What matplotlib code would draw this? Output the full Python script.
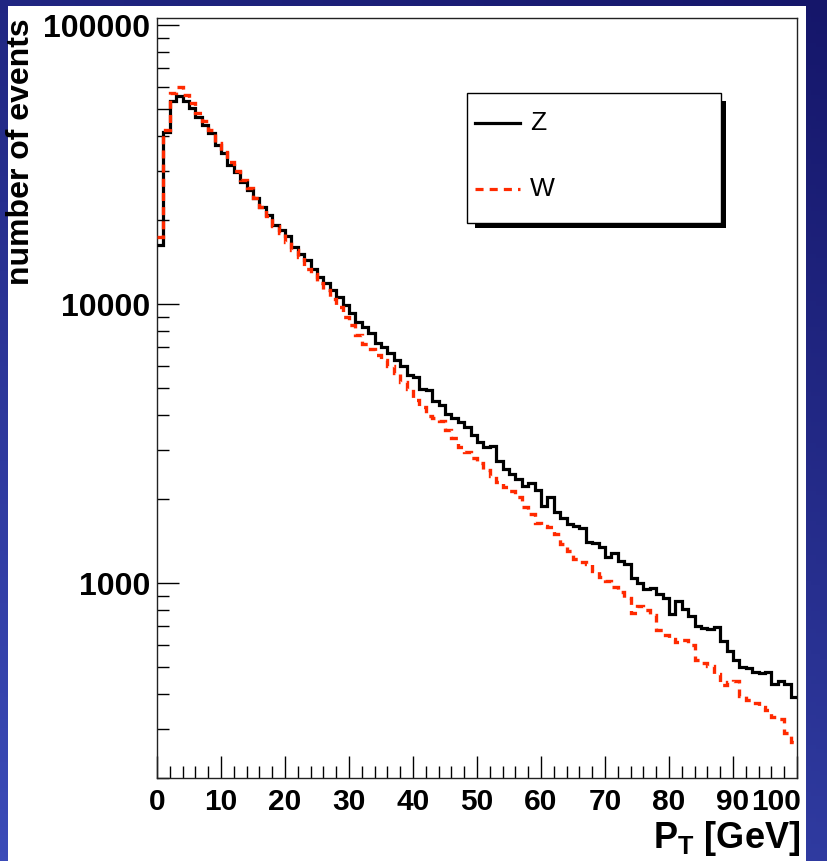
import matplotlib

matplotlib.use("Agg")
import matplotlib.pyplot as plt
import numpy as np
from matplotlib import font_manager
from matplotlib.lines import Line2D
from matplotlib.patches import Rectangle
from matplotlib.ticker import FixedLocator, LogLocator, NullFormatter
from matplotlib.transforms import ScaledTranslation

# transverse momentum bins, 1 GeV wide
pt_edges = list(range(0, 101))

# Z histogram (black solid)
z_counts = [
    16300, 41500, 53400, 55700, 53400, 50300, 46900, 43800, 40900, 37100,
    34700, 31500, 29800, 27400, 25600, 23900, 22300, 20800, 19200, 18400,
    17500, 16000, 15100, 14400, 13300, 12500, 11900, 11200, 10600, 9920,
    9260, 8640, 8290, 7850, 7230, 7030, 6660, 6300, 5990, 5570,
    5490, 4950, 4920, 4500, 4350, 4030, 3890, 3790, 3630, 3390,
    3210, 3080, 3100, 2740, 2560, 2450, 2350, 2230, 2290, 2160,
    1895, 2030, 1790, 1705, 1630, 1600, 1580, 1405, 1390, 1345,
    1240, 1285, 1195, 1170, 1045, 1000, 955, 960, 910, 885,
    775, 860, 810, 760, 700, 690, 685, 695, 620, 570,
    530, 500, 495, 480, 475, 480, 435, 445, 435, 390,
]

# W histogram (red dashed)
w_counts = [
    17400, 42000, 57200, 60100, 56100, 52400, 48300, 45300, 42000, 37800,
    35200, 32400, 30100, 27800, 26000, 24000, 22300, 20700, 19000, 18000,
    16700, 15600, 14700, 13300, 12800, 11900, 11200, 10400, 9730, 9010,
    8410, 7740, 7190, 6880, 6550, 6300, 5990, 5680, 5270, 4950,
    4530, 4260, 3980, 3890, 3820, 3530, 3300, 3080, 2950, 2800,
    2700, 2550, 2420, 2300, 2200, 2140, 2040, 1870, 1770, 1640,
    1600, 1590, 1500, 1380, 1300, 1220, 1190, 1170, 1100, 1050,
    1020, 965, 930, 880, 780, 830, 800, 770, 680, 650,
    630, 615, 625, 600, 530, 515, 505, 470, 430, 440,
    445, 395, 380, 370, 358, 350, 330, 325, 290, 270,
]

series_names = ["Z", "W"]
x_ticks = [0, 10, 20, 30, 40, 50, 60, 70, 80, 90, 100]
y_ticks = [1000, 10000, 100000]

W_PX, H_PX = 828, 861
RED = "#ff2a00"
DASH = (0, (5.8, 4.4))
FONT = ["Liberation Sans", "DejaVu Sans"]

# the x labels of the original are condensed; use the narrow cut if it is there
installed = {f.name for f in font_manager.fontManager.ttflist}
if "Liberation Sans Narrow" in installed:
    XFONT, XSIZE = ["Liberation Sans Narrow", "DejaVu Sans"], 26
else:
    XFONT, XSIZE = FONT, 21.5


def fx(px):
    return px / W_PX


def fy(py):
    return 1 - py / H_PX


plt.rcParams["font.family"] = FONT
plt.rcParams["lines.scale_dashes"] = False
plt.rcParams["mathtext.fontset"] = "custom"
plt.rcParams["mathtext.bf"] = XFONT[0] + ":bold"
plt.rcParams["mathtext.rm"] = XFONT[0]

fig = plt.figure(figsize=(W_PX / 100, H_PX / 100), dpi=100)

# slide background: blue gradient with a white canvas on top
bg = fig.add_axes([0, 0, 1, 1], zorder=-10)
gy, gx = np.mgrid[0:1:200j, 0:1:200j]
shade = 0.55 * gy + 0.25 * (1 - gx)
bg_cmap = matplotlib.colors.LinearSegmentedColormap.from_list("slide", ["#15166a", "#3b4bb8"])
bg.imshow(shade, cmap=bg_cmap, aspect="auto", extent=[0, 1, 0, 1], origin="upper")
bg.add_patch(Rectangle((fx(8), 0), fx(806) - fx(8), fy(6), facecolor="white", edgecolor="none"))
bg.set_xlim(0, 1)
bg.set_ylim(0, 1)
bg.axis("off")

ax = fig.add_axes([fx(157), fy(778), fx(797) - fx(157), fy(18) - fy(778)])
ax.set_facecolor("white")

ax.stairs(z_counts, pt_edges, baseline=None, color="black", linewidth=2.3, zorder=3)
ax.stairs(w_counts, pt_edges, baseline=None, color=RED, linewidth=2.4, linestyle=DASH, zorder=4)

ax.set_yscale("log")
ax.set_xlim(0, 100)
ax.set_ylim(200, 106000)

ax.xaxis.set_major_locator(FixedLocator(x_ticks))
ax.xaxis.set_minor_locator(FixedLocator([v for v in range(2, 100, 2) if v % 10]))
ax.yaxis.set_major_locator(FixedLocator(y_ticks))
ax.yaxis.set_minor_locator(LogLocator(base=10, subs=np.arange(2, 10)))
ax.yaxis.set_minor_formatter(NullFormatter())
ax.set_yticklabels(["1000", "10000", "100000"])
ax.set_xticklabels([str(v) for v in x_ticks])

ax.tick_params(which="both", direction="in", top=False, right=False, width=1.0, color="black")
ax.tick_params(which="major", length=16)
ax.tick_params(which="minor", length=8.5)
ax.tick_params(axis="y", which="major", pad=5, labelsize=23)
ax.tick_params(axis="x", which="major", pad=7, labelsize=XSIZE)
for lab in ax.get_yticklabels():
    lab.set_fontweight("bold")
for lab in ax.get_xticklabels():
    lab.set_fontweight("bold")
    lab.set_family(XFONT)
# the last label is pulled back inside the canvas, as ROOT does
last = ax.get_xticklabels()[-1]
last.set_transform(last.get_transform() + ScaledTranslation(-21 / 100, 0, fig.dpi_scale_trans))

for side in ["left", "right", "top", "bottom"]:
    ax.spines[side].set_linewidth(1.0)
    ax.spines[side].set_color("#222222")

# axis titles
fig.text(fx(21), fy(18), "number of events", rotation=90, ha="center", va="top",
         fontsize=23, fontweight="bold")
fig.text(fx(800), fy(838), r"$\mathbf{P_{T}}$ [GeV]", ha="right", va="center",
         fontsize=26, fontweight="bold", family=XFONT)

# legend box with solid shadow
lx0, ly0, lx1, ly1 = 467, 93, 721, 223
fig.patches.append(Rectangle((fx(lx0 + 8), fy(ly1 + 5)), fx(lx1 + 5) - fx(lx0 + 8), fy(ly0 + 8) - fy(ly1 + 5),
                             transform=fig.transFigure, facecolor="black", edgecolor="none", zorder=5))
fig.patches.append(Rectangle((fx(lx0), fy(ly1)), fx(lx1) - fx(lx0), fy(ly0) - fy(ly1),
                             transform=fig.transFigure, facecolor="white", edgecolor="black",
                             linewidth=1.0, zorder=6))
entry_y = [123, 189]
entry_style = [dict(color="black", linestyle="-"), dict(color=RED, linestyle=DASH)]
for name, ypx, style in zip(series_names, entry_y, entry_style):
    fig.lines.append(Line2D([fx(475), fx(520)], [fy(ypx), fy(ypx)], transform=fig.transFigure,
                            linewidth=2.3, zorder=7, **style))
    fig.text(fx(530), fy(ypx), name, ha="left", va="center", fontsize=19, zorder=7)

fig.savefig("out.png", dpi=100)
plt.close(fig)
